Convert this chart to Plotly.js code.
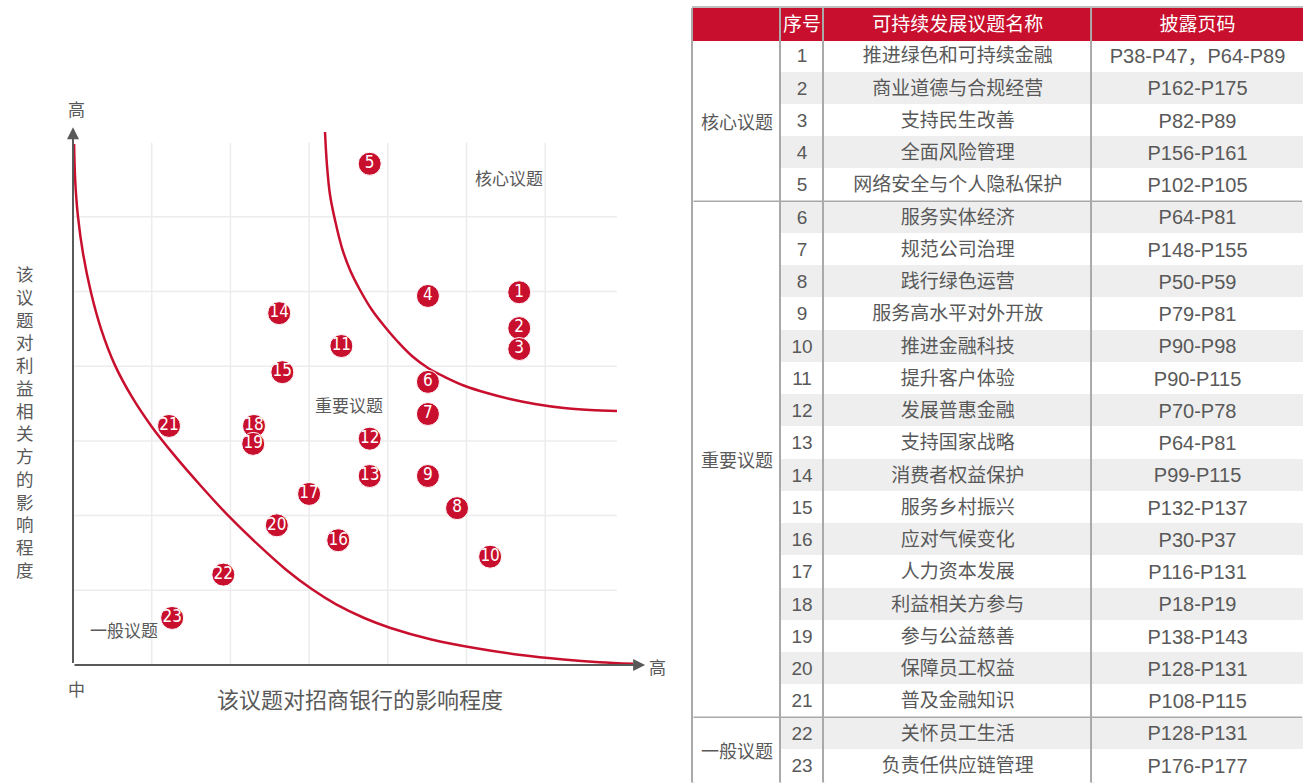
<!DOCTYPE html>
<html>
<head>
<meta charset="utf-8">
<script src="https://cdn.plot.ly/plotly-3.0.1.min.js"></script>
<style>
html, body { margin: 0; padding: 0; background: #ffffff; }
#chart { width: 1303px; height: 783px; }
</style>
</head>
<body>
<div id="chart"></div>
<script>
// ---------------- data ----------------
const issueIds = [1, 2, 3, 4, 5, 6, 7, 8, 9, 10, 11, 12, 13, 14, 15, 16, 17, 18, 19, 20, 21, 22, 23];
// impact on China Merchants Bank (x) and impact on stakeholders (y), in grid units
const bankImpact = [5.67, 5.67, 5.67, 4.51, 3.77, 4.51, 4.51, 4.88, 4.51, 5.30, 3.41, 3.77, 3.77, 2.62, 2.66, 3.37, 3.00, 2.30, 2.29, 2.59, 1.22, 1.91, 1.26];
const stakeholderImpact = [4.99, 4.51, 4.23, 4.94, 6.71, 3.79, 3.36, 2.10, 2.53, 1.45, 4.27, 3.03, 2.53, 4.71, 3.92, 1.67, 2.29, 3.20, 2.96, 1.87, 3.20, 1.21, 0.63];
const issueNames = ['推进绿色和可持续金融', '商业道德与合规经营', '支持民生改善', '全面风险管理', '网络安全与个人隐私保护',
  '服务实体经济', '规范公司治理', '践行绿色运营', '服务高水平对外开放', '推进金融科技', '提升客户体验', '发展普惠金融',
  '支持国家战略', '消费者权益保护', '服务乡村振兴', '应对气候变化', '人力资本发展', '利益相关方参与', '参与公益慈善',
  '保障员工权益', '普及金融知识', '关怀员工生活', '负责任供应链管理'];
const disclosurePages = ['P38-P47，P64-P89', 'P162-P175', 'P82-P89', 'P156-P161', 'P102-P105', 'P64-P81', 'P148-P155',
  'P50-P59', 'P79-P81', 'P90-P98', 'P90-P115', 'P70-P78', 'P64-P81', 'P99-P115', 'P132-P137', 'P30-P37', 'P116-P131',
  'P18-P19', 'P138-P143', 'P128-P131', 'P108-P115', 'P128-P131', 'P176-P177'];
const groupNames = ['核心议题', '重要议题', '一般议题'];
const groupSizes = [5, 16, 2];
const tableHeaders = ['序号', '可持续发展议题名称', '披露页码'];
// threshold curves (grid units)
const innerCurveX = [0.014, 0.028, 0.064, 0.128, 0.228, 0.356, 0.534, 0.747, 1.003, 1.281, 1.637, 1.992, 2.348, 2.704,
  3.038, 3.344, 3.700, 4.035, 4.554, 5.123, 5.692, 6.233, 6.689, 7.116];
const innerCurveY = [6.974, 6.485, 5.996, 5.507, 4.989, 4.500, 4.011, 3.592, 3.187, 2.816, 2.383, 1.978, 1.614, 1.279,
  1.013, 0.811, 0.629, 0.496, 0.342, 0.224, 0.133, 0.074, 0.038, 0.017];
const outerCurveX = [3.202, 3.227, 3.266, 3.329, 3.418, 3.520, 3.647, 3.799, 3.965, 4.130, 4.307, 4.511, 4.727, 4.981,
  5.260, 5.553, 5.870, 6.239, 6.569, 6.912];
const outerCurveY = [7.135, 6.693, 6.292, 5.957, 5.582, 5.288, 5.020, 4.752, 4.525, 4.324, 4.137, 3.976, 3.855, 3.735,
  3.641, 3.561, 3.494, 3.440, 3.414, 3.400];
const xAxisTitle = '该议题对招商银行的影响程度';
const yAxisTitle = '该议题对利益相关方的影响程度';

// ---------------- styles ----------------
const W = 1303, H = 783;
const RED = '#C8102E';
const TXT = '#595959';
const GRID = '#ECECEC';
const BORDER = '#A9A9A9';
const STRIPE = '#EEEEEE';
const CJK = 'Noto Sans CJK SC, sans-serif';
const LAT = 'Liberation Sans, Noto Sans CJK SC, sans-serif';

const px2x = px => px / W;
const px2y = py => 1 - py / H;

// ---------------- matrix ----------------
const traces = [];
[[innerCurveX, innerCurveY], [outerCurveX, outerCurveY]].forEach(c => {
  traces.push({
    type: 'scatter', mode: 'lines', x: c[0], y: c[1],
    line: { color: RED, width: 2.5, shape: 'spline', smoothing: 1 },
    hoverinfo: 'skip', showlegend: false, xaxis: 'x', yaxis: 'y'
  });
});
traces.push({
  type: 'scatter', mode: 'markers+text', x: bankImpact, y: stakeholderImpact,
  text: issueIds.map(String), textposition: 'middle center',
  textfont: { family: 'Liberation Sans Narrow, DejaVu Sans Condensed, sans-serif', size: 17, color: '#ffffff' },
  marker: { size: 23, color: RED, line: { color: '#ffffff', width: 1 } },
  cliponaxis: false, hoverinfo: 'skip', showlegend: false, xaxis: 'x', yaxis: 'y'
});

// ---------------- table ----------------
const N = issueIds.length;
const blank = Array(N).fill('');
const groupStarts = [];
groupSizes.reduce((acc, s) => { groupStarts.push(acc); return acc + s; }, 0);
const stripeFill = i => (i % 2 === 1 ? STRIPE : '#FFFFFF');

// columns: sep, group, sep, id, sep, name, sep, pages
const colKinds = ['sep', 'group', 'sep', 'data', 'sep', 'data', 'sep', 'data'];
const cellValues = [blank, blank, blank, issueIds.map(String), blank, issueNames, blank, disclosurePages];
const cellFill = colKinds.map(k => issueIds.map((_, i) => k === 'sep' ? BORDER : (k === 'group' ? '#FFFFFF' : stripeFill(i))));
const headerValues = ['', '', '', tableHeaders[0], '', tableHeaders[1], '', tableHeaders[2]];
const headerFill = colKinds.map(k => k === 'sep' ? BORDER : RED);

const tableTop = 8.5, headerH = 31.5, rowH = 32.25;
traces.push({
  type: 'table',
  domain: { x: [px2x(692), 1], y: [0, px2y(tableTop)] },
  columnwidth: [2, 85.7, 2, 41, 2, 267, 2, 209.3],
  header: {
    values: headerValues, height: headerH, align: 'center',
    fill: { color: headerFill },
    line: { color: headerFill, width: 1.5 },
    font: { family: CJK, size: 19, color: '#ffffff' }
  },
  cells: {
    values: cellValues, height: rowH, align: 'center',
    fill: { color: cellFill },
    line: { color: cellFill, width: 1.5 },
    font: { family: LAT, size: [1, 19, 1, 19, 1, 19, 1, 20], color: TXT }
  }
});

// ---------------- layout ----------------
const shapes = [];
[1, 2, 3, 4, 5, 6].forEach(v => {
  shapes.push({ type: 'line', xref: 'x', yref: 'y', x0: v, x1: v, y0: 0, y1: 6.99, layer: 'below', line: { color: GRID, width: 1.5 } });
  shapes.push({ type: 'line', xref: 'x', yref: 'y', x0: 0, x1: 6.91, y0: v, y1: v, layer: 'below', line: { color: GRID, width: 1.5 } });
});
// table top border
shapes.push({ type: 'line', xref: 'paper', yref: 'paper', x0: px2x(692), x1: 1, y0: px2y(7), y1: px2y(7), line: { color: BORDER, width: 1.5 } });

const ann = [];
const arrow = (x, y) => ({ xref: 'x', yref: 'y', axref: 'x', ayref: 'y', x: x, y: y, ax: 0, ay: 0, text: ' ', font: { size: 1 },
  showarrow: true, arrowhead: 2, arrowsize: 1.2, arrowwidth: 2, arrowcolor: TXT, standoff: 0, startstandoff: 0 });
ann.push(arrow(0, 7.2));
ann.push(arrow(7.27, 0));
const lbl = (text, x, y, size, ref) => ({ xref: ref, yref: ref === 'paper' ? 'paper' : 'y', x: x, y: y, text: text, showarrow: false,
  xanchor: 'center', yanchor: 'middle', font: { family: CJK, size: size, color: TXT } });
ann.push(lbl('高', px2x(76), px2y(108), 17, 'paper'));
ann.push(lbl('高', px2x(658), px2y(666), 17, 'paper'));
ann.push(lbl('中', px2x(76), px2y(688), 17, 'paper'));
ann.push(lbl('核心议题', 5.54, 6.53, 17, 'x'));
ann.push(lbl('重要议题', 3.51, 3.49, 17, 'x'));
ann.push(lbl('一般议题', 0.65, 0.47, 17, 'x'));
// vertical y-axis title
ann.push({ xref: 'paper', yref: 'paper', x: px2x(25), y: px2y(421), text: yAxisTitle.split('').join('<br>'), showarrow: false,
  xanchor: 'center', yanchor: 'middle', align: 'center', font: { family: CJK, size: 17.5, color: TXT } });
// group labels and group separators in the table
groupNames.forEach((g, k) => {
  const mid = tableTop + headerH + rowH * (groupStarts[k] + groupSizes[k] / 2);
  ann.push({ xref: 'paper', yref: 'paper', x: px2x(737), y: px2y(mid), text: g, showarrow: false,
    xanchor: 'center', yanchor: 'middle', font: { family: CJK, size: 18, color: TXT } });
  if (k > 0) {
    const yb = tableTop + headerH + rowH * groupStarts[k];
    ann.push({ xref: 'paper', yref: 'paper', x: 1, y: px2y(yb), axref: 'pixel', ayref: 'pixel', ax: -(W - 692), ay: 0,
      text: ' ', font: { size: 1 }, showarrow: true, arrowhead: 0, arrowwidth: 1.5, arrowcolor: BORDER, standoff: 0, startstandoff: 0 });
  }
});

const layout = {
  width: W, height: H,
  margin: { l: 0, r: 0, t: 0, b: 0 },
  paper_bgcolor: '#ffffff', plot_bgcolor: 'rgba(0,0,0,0)',
  showlegend: false, hovermode: false,
  xaxis: {
    domain: [px2x(50), px2x(670)], range: [-23 / 78.7, 597 / 78.7],
    showgrid: false, zeroline: false, showline: false, showticklabels: false, ticks: '', fixedrange: true, automargin: false,
    title: { text: xAxisTitle, standoff: 12, font: { family: CJK, size: 22, color: TXT } }
  },
  yaxis: {
    domain: [px2y(680), px2y(110)], range: [-15 / 74.7, 555 / 74.7],
    showgrid: false, zeroline: false, showline: false, showticklabels: false, ticks: '', fixedrange: true, automargin: false
  },
  shapes: shapes,
  annotations: ann
};

Plotly.newPlot('chart', traces, layout, { displayModeBar: false, staticPlot: true });
</script>
</body>
</html>
